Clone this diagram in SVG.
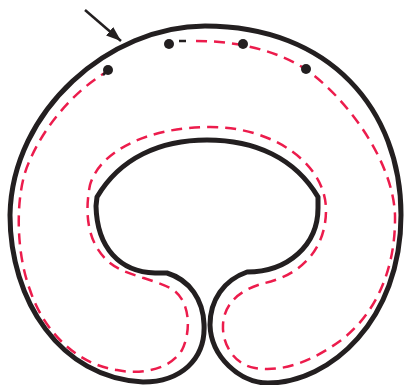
<svg xmlns="http://www.w3.org/2000/svg" width="404" height="385" viewBox="0 0 404 385">
<style>
.outline{fill:none;stroke:#231f20;stroke-width:5;stroke-linejoin:round}
.seam{fill:none;stroke:#ec1c4c;stroke-width:2.5;stroke-dasharray:11 7}
.dot{fill:#231f20}
.blk{stroke:#231f20;stroke-width:2.5;fill:none}
</style>
<defs>
<marker id="ah" viewBox="0 0 15 11" refX="15" refY="5.5" markerWidth="15" markerHeight="11" markerUnits="userSpaceOnUse" orient="auto">
<path d="M0,0 L15,5.5 L0,11 Z" fill="#231f20"/>
</marker>
</defs>
<g id="pillow">
<path class="outline" d="M143,382 C180,382 206,360 204,324 C203,300 190,280 167,273 L155,273 C120,272 97,248 96,206 L97,197 C120,158 160,140 207,140 C255,140 295,158 318,197 L318,208 C318,245 288,272 247,272 C224,280 210,300 210,325 C211,357 240,383 268,383 C330,383 401,320 401,215 C401,110 330,26 205,26 C110,26 12,110 10,215 C10,300 60,378 143,382 Z"/>
</g>
<g id="seam">
<path class="seam" d="M196,41 C240,41 280,52 305,69 C345,96 393,160 395,215 C396,270 375,315 340,341 C315,359 285,373 255,368 C235,365 222,345 223,325 C224,300 245,288 265,283 C300,275 326,250 326,210 C326,165 275,127 210,127 C150,127 100,150 90,185 C84,215 88,245 110,263 C125,275 150,278 170,288 C190,298 192,330 182,350 C170,370 140,375 117,370 C80,365 45,335 30,290 C15,250 15,190 30,160 C45,125 75,90 108,71"/>
</g>
<g id="dots">
<circle class="dot" cx="169" cy="44" r="5"/>
<circle class="dot" cx="243" cy="44" r="5"/>
<circle class="dot" cx="306" cy="69" r="5"/>
<circle class="dot" cx="108" cy="70" r="5"/>
<line class="blk" x1="107" y1="71" x2="103" y2="75"/>
<line class="blk" x1="179" y1="41" x2="186" y2="41"/>
</g>
<g id="connectors">
<line class="blk" x1="85" y1="10" x2="121" y2="41" marker-end="url(#ah)"/>
</g>
</svg>
